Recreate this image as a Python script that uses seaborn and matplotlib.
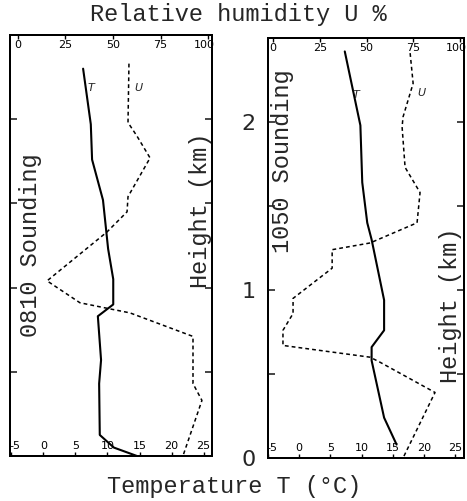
import matplotlib
matplotlib.use("Agg")
import matplotlib.pyplot as plt
import matplotlib.transforms as mtransforms
import seaborn as sns

# ---- 0810 sounding ----
h_T_0810 = [2.30, 1.97, 1.76, 1.52, 1.23, 1.05, 0.90, 0.83, 0.57, 0.43, 0.125, 0.05, 0.0]
T_0810 = [6.2, 7.4, 7.6, 9.3, 10.1, 10.9, 10.9, 8.5, 9.0, 8.7, 8.8, 11.0, 14.6]
h_U_0810 = [2.33, 1.98, 1.90, 1.77, 1.54, 1.45, 1.33, 1.04, 0.91, 0.87, 0.85, 0.71, 0.43, 0.33, 0.0]
U_0810 = [58.4, 57.9, 62.6, 69.5, 57.9, 57.4, 46.8, 15.3, 32.6, 50.0, 58.9, 92.1, 92.1, 96.8, 86.8]

# ---- 1050 sounding ----
h_T_1050 = [2.42, 1.98, 1.64, 1.40, 1.30, 0.94, 0.76, 0.66, 0.58, 0.24, 0.08]
T_1050 = [7.3, 9.8, 10.1, 10.9, 11.6, 13.6, 13.6, 11.6, 11.6, 13.6, 15.6]
h_U_1050 = [2.41, 2.23, 2.03, 1.97, 1.73, 1.58, 1.40, 1.28, 1.24, 1.13, 0.95, 0.86, 0.76, 0.67, 0.60, 0.57, 0.39, 0.0]
U_1050 = [73.3, 74.9, 69.5, 69.0, 70.6, 78.6, 77.0, 51.9, 31.6, 31.6, 10.7, 10.7, 5.3, 5.3, 51.9, 57.2, 86.6, 69.5]

T_ticks = [-5, 0, 5, 10, 15, 20, 25]
U_ticks = [0, 25, 50, 75, 100]
h_ticks = [0, 0.5, 1, 1.5, 2]
h_ticklabels = ["0", "", "1", "", "2"]

sns.set_style("white")
plt.rcParams['font.family'] = ['DejaVu Sans']

MONO = 'Liberation Mono'
fig = plt.figure(figsize=(4.67, 5.01), dpi=100)

panels = [
    dict(rect=[10/467, 45/501, 202/467, 421/501], Tlim=(-5.2, 26.3), Ulim=(-4.2, 102.1),
         hT=h_T_0810, T=T_0810, hU=h_U_0810, U=U_0810, ylabels=False),
    dict(rect=[268/467, 43/501, 196/467, 420/501], Tlim=(-4.2, 26.4), Ulim=(-2.7, 102.1),
         hT=h_T_1050, T=T_1050, hU=h_U_1050, U=U_1050, ylabels=True),
]


def shift(label, dx_px):
    label.set_transform(label.get_transform() +
                        mtransforms.ScaledTranslation(dx_px/100, 0, fig.dpi_scale_trans))


for p in panels:
    ax = fig.add_axes(p['rect'])
    ax.set_xlim(*p['Tlim'])
    ax.set_ylim(0, 2.5)
    sns.lineplot(x=p['T'], y=p['hT'], sort=False, estimator=None, color='black',
                 lw=1.5, ax=ax)
    ax.set_xticks(T_ticks)
    ax.set_xticklabels([str(t) for t in T_ticks])
    ax.tick_params(axis='x', direction='in', pad=-11, labelsize=8, length=3,
                   width=1, colors='black')
    ax.set_yticks(h_ticks)
    if p['ylabels']:
        ax.set_yticklabels(h_ticklabels)
        ax.tick_params(axis='y', direction='in', left=True, right=True, labelleft=True,
                       labelsize=16, pad=9, length=5, width=1.2)
    else:
        ax.set_yticklabels([])
        ax.tick_params(axis='y', direction='in', left=True, right=True, labelleft=False,
                       length=5, width=1.2)
    ax.set_xlabel('')
    ax.set_ylabel('')
    for s in ax.spines.values():
        s.set_color('black')
        s.set_linewidth(1.4)
    shift(ax.get_xticklabels()[0], 4)

    axt = ax.twiny()
    axt.set_xlim(*p['Ulim'])
    sns.lineplot(x=p['U'], y=p['hU'], sort=False, estimator=None, color='black',
                 lw=1.1, linestyle=(0, (2.5, 2)), ax=axt)
    axt.set_xticks(U_ticks)
    axt.set_xticklabels([str(u) for u in U_ticks])
    axt.tick_params(axis='x', direction='in', pad=-11, labelsize=8, length=3,
                    width=1, colors='black')
    axt.set_xlabel('')
    for s in axt.spines.values():
        s.set_color('black')
        s.set_linewidth(1.4)
    shift(axt.get_xticklabels()[-1], -4)

# curve labels
fig.text(91/467, 1-88/501, 'T', fontsize=8, style='italic', ha='center', va='center')
fig.text(138/467, 1-88/501, 'U', fontsize=8, style='italic', ha='center', va='center')
fig.text(356/467, 1-95/501, 'T', fontsize=8, style='italic', ha='center', va='center')
fig.text(421/467, 1-93/501, 'U', fontsize=8, style='italic', ha='center', va='center')

# titles and labels
fig.text(238/467, 1-14/501, 'Relative humidity U %', family=MONO, fontsize=17,
         ha='center', va='center')
fig.text(234/467, 1-486/501, 'Temperature T (°C)', family=MONO, fontsize=17,
         ha='center', va='center')
fig.text(31/467, 1-245/501, '0810 Sounding', family=MONO, fontsize=17,
         rotation=90, ha='center', va='center')
fig.text(201/467, 1-210/501, 'Height (km)', family=MONO, fontsize=17,
         rotation=90, ha='center', va='center')
fig.text(282/467, 1-161/501, '1050 Sounding', family=MONO, fontsize=17,
         rotation=90, ha='center', va='center')
fig.text(450/467, 1-305/501, 'Height (km)', family=MONO, fontsize=17,
         rotation=90, ha='center', va='center')

fig.savefig('out.png', dpi=100)
